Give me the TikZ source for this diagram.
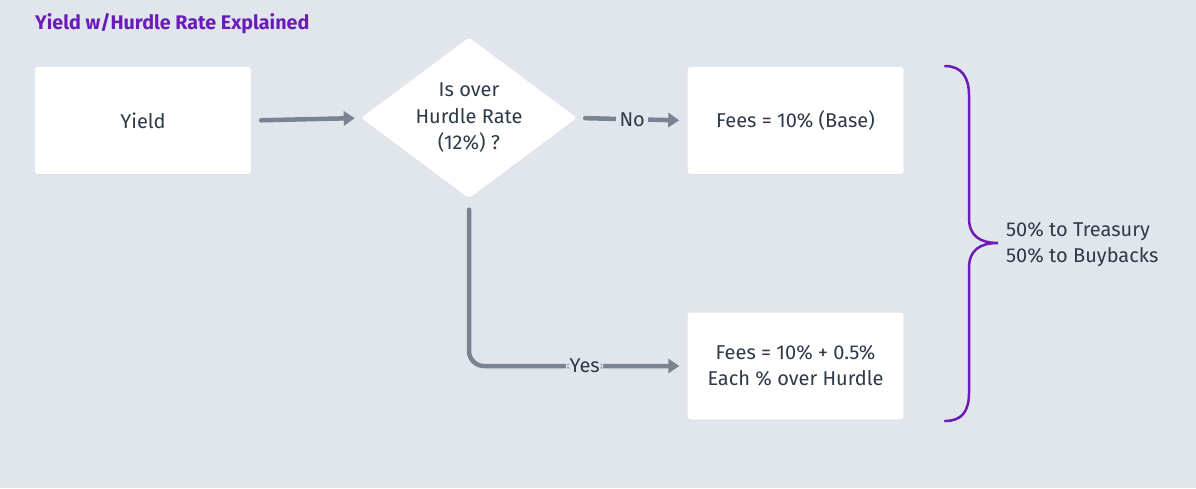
\documentclass[tikz,border=0pt]{standalone}
\usepackage{fontspec}
\setmainfont{Fira Sans}
\usetikzlibrary{arrows.meta,shapes.geometric,shadows}
\definecolor{bgc}{HTML}{E1E5EC}
\definecolor{txt}{HTML}{2E3A48}
\definecolor{conn}{HTML}{7A8490}
\definecolor{purp}{HTML}{6A1BB8}
\tikzset{
  box/.style={draw=none,fill=white,rounded corners=3pt,minimum width=216pt,minimum height=107pt,
    align=center,text=txt,font=\fontsize{20}{26}\selectfont,inner sep=0pt,
    drop shadow={opacity=0.06,shadow xshift=0pt,shadow yshift=-1pt}},
  dec/.style={shape=diamond,fill=white,rounded corners=3pt,minimum width=216pt,minimum height=161pt,
    aspect=1.34,inner sep=0pt,align=center,text=txt,font=\fontsize{20}{26.5}\selectfont,
    drop shadow={opacity=0.06,shadow xshift=0pt,shadow yshift=-1pt}},
  conn/.style={draw=conn,line width=4.5pt,line cap=round,-{Triangle[length=11pt,width=14pt]}},
  lbl/.style={fill=bgc,text=txt,inner xsep=3.5pt,inner ysep=1pt,font=\fontsize{20}{22}\selectfont},
  brace/.style={draw=purp,line width=2.5pt,line cap=round}
}
\begin{document}
\begin{tikzpicture}[x=1pt,y=-1pt]
\fill[bgc] (0,0) rectangle (1196,488);
\useasboundingbox (0,0) rectangle (1196,488);
\node[anchor=base west,text=purp,font=\fontsize{19.7}{22}\selectfont\bfseries,inner sep=0pt] (title) at (35,29) {Yield w/Hurdle Rate Explained};
\node[box] (yield) at (143,120.5) {Yield};
\node[dec] (q) at (469,118) {Is over\\Hurdle Rate\\(12\%) ?};
\node[box] (base) at (795.5,120.5) {Fees = 10\% (Base)};
\node[box] (extra) at (795.5,366) {Fees = 10\% + 0.5\%\\Each \% over Hurdle};
\draw[conn,shorten <=10pt,shorten >=6pt] (yield.east) -- (q.west);
\draw[conn,shorten <=8pt,shorten >=8pt] (q.east) -- node[lbl] (no) {No} (base.west);
\draw[conn,rounded corners=15pt,shorten <=11pt,shorten >=8pt] (q.south) |- node[lbl,pos=0.765] (yes) {Yes} (extra.west);
\coordinate (bt) at (945,66);
\coordinate (bb) at (945,421);
\coordinate (tip) at (998,243);
\draw[brace] (bt) .. controls (962,66) and (969,78) .. (969,95) -- (969,218)
  .. controls (969,236) and (980,243) .. (tip)
  .. controls (980,243) and (969,250) .. (969,268) -- (969,393)
  .. controls (969,411) and (962,421) .. (bb);
\node[anchor=west,align=left,text=txt,font=\fontsize{20}{26}\selectfont,inner sep=0pt] (split) at (1006,245) {50\% to Treasury\\50\% to Buybacks};
\end{tikzpicture}
\end{document}
